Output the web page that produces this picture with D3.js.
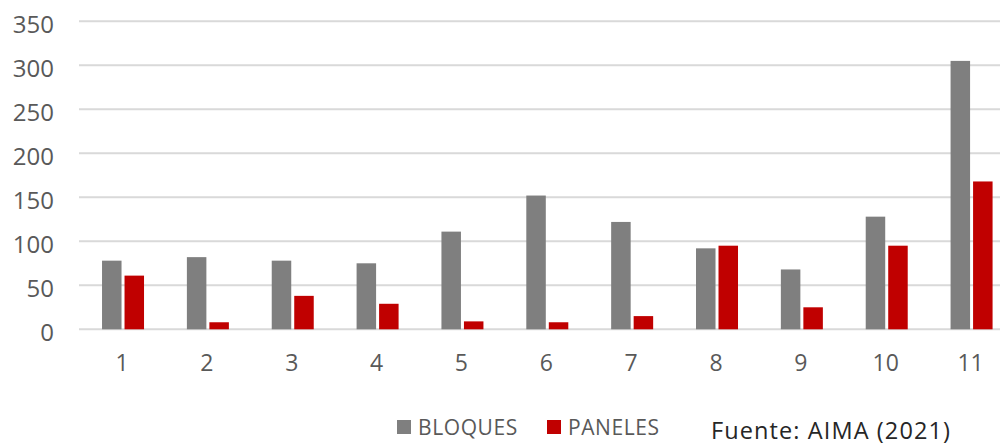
<!DOCTYPE html>
<html>
<head>
<meta charset="utf-8">
<script src="https://cdn.jsdelivr.net/npm/d3@7"></script>
<style>
  html, body { margin: 0; padding: 0; background: #fff; }
  svg { display: block; font-family: "Open Sans", sans-serif; }
</style>
</head>
<body>
<svg id="chart" width="1000" height="444"></svg>
<script>
// Categories and series values
const categories = ["1", "2", "3", "4", "5", "6", "7", "8", "9", "10", "11"];
const bloques = [78, 82, 78, 75, 111, 152, 122, 92, 68, 128, 305];
const paneles = [61, 8, 38, 29, 9, 8, 15, 95, 25, 95, 168];
const yTicks = [0, 50, 100, 150, 200, 250, 300, 350];
const seriesNames = ["BLOQUES", "PANELES"];
const seriesColors = ["#7f7f7f", "#c00000"];
const sourceText = "Fuente: AIMA (2021)";

const svg = d3.select("#chart");

const x = d3.scaleBand().domain(categories).range([80.6, 1014]).padding(0);
const y = d3.scaleLinear().domain([0, 350]).range([329.3, 21.3]);

const barW = 19.5, barGap = 3;

// Horizontal gridlines (including the zero line)
svg.append("g").selectAll("line")
  .data(yTicks)
  .join("line")
  .attr("x1", 79).attr("x2", 1014)
  .attr("y1", d => y(d)).attr("y2", d => y(d))
  .attr("stroke", "#d9d9d9").attr("stroke-width", 2);

// Y axis labels
const yAxis = d3.axisLeft(y).tickValues(yTicks).tickSize(0).tickPadding(0);
const gy = svg.append("g").attr("transform", "translate(54,0)").call(yAxis);
gy.select(".domain").remove();
gy.selectAll("text")
  .attr("font-family", "'Open Sans', sans-serif")
  .attr("font-size", 24)
  .attr("fill", "#595959")
  .attr("dy", null)
  .attr("y", 11)
  .attr("text-anchor", "end");

// X axis labels
const xAxis = d3.axisBottom(x).tickSize(0).tickPadding(0);
const gx = svg.append("g").attr("transform", "translate(-1,0)").call(xAxis);
gx.select(".domain").remove();
gx.selectAll("text")
  .attr("font-family", "'Open Sans', sans-serif")
  .attr("font-size", 23)
  .attr("fill", "#595959")
  .attr("dy", null)
  .attr("y", 371);

const center = c => x(c) + x.bandwidth() / 2;

// BLOQUES bars
svg.append("g").selectAll("rect")
  .data(categories.map((c, i) => ({ c, v: bloques[i] })))
  .join("rect")
  .attr("x", d => center(d.c) - barGap / 2 - barW)
  .attr("width", barW)
  .attr("y", d => y(d.v))
  .attr("height", d => y(0) - y(d.v))
  .attr("fill", seriesColors[0]);

// PANELES bars
svg.append("g").selectAll("rect")
  .data(categories.map((c, i) => ({ c, v: paneles[i] })))
  .join("rect")
  .attr("x", d => center(d.c) + barGap / 2)
  .attr("width", barW)
  .attr("y", d => y(d.v))
  .attr("height", d => y(0) - y(d.v))
  .attr("fill", seriesColors[1]);

// Legend
const legendPos = [{ sx: 397, tx: 418 }, { sx: 547, tx: 568 }];
const legend = svg.append("g");
seriesNames.forEach((name, i) => {
  legend.append("rect")
    .attr("x", legendPos[i].sx).attr("y", 420)
    .attr("width", 14).attr("height", 14)
    .attr("fill", seriesColors[i]);
  legend.append("text")
    .attr("x", legendPos[i].tx).attr("y", 435)
    .attr("font-size", 21)
    .attr("letter-spacing", 0.6)
    .attr("fill", "#595959")
    .text(name);
});

// Source note
svg.append("text")
  .attr("x", 711).attr("y", 438.5)
  .attr("font-size", 23.5)
  .attr("letter-spacing", 1.1)
  .attr("fill", "#262626")
  .text(sourceText);
</script>
</body>
</html>
